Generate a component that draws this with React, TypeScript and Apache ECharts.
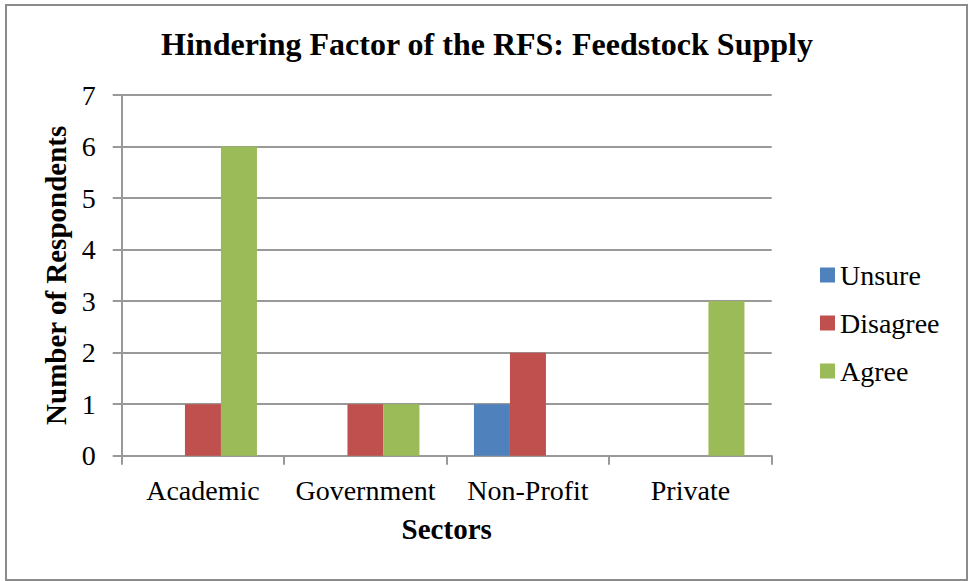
import React, { useEffect, useRef } from "react";
import * as echarts from "echarts";

const categories = ["Academic", "Government", "Non-Profit", "Private"];
const unsure = [0, 0, 1, 0];
const disagree = [1, 1, 2, 0];
const agree = [6, 1, 0, 3];
const seriesNames = ["Unsure", "Disagree", "Agree"];
const seriesColors = ["#4F81BD", "#C0504D", "#9BBB59"];

const FONT = "'Liberation Serif', 'Times New Roman', serif";

export default function App() {
  const ref = useRef<HTMLDivElement>(null);
  useEffect(() => {
    if (!ref.current) return;
    const chart = echarts.init(ref.current, undefined, { renderer: "svg" });
    const values = [unsure, disagree, agree];
    chart.setOption({
      animation: false,
      backgroundColor: "#ffffff",
      textStyle: { fontFamily: FONT, color: "#000" },
      title: {
        text: "Hindering Factor of the RFS: Feedstock Supply",
        left: 482,
        textAlign: "center",
        top: 23,
        textStyle: { fontFamily: FONT, fontSize: 32, fontWeight: "bold", color: "#000" },
      },
      graphic: [
        {
          type: "rect",
          shape: { x: 6, y: 5, width: 961, height: 575 },
          style: { fill: "none", stroke: "#8b8b8b", lineWidth: 2 },
          silent: true,
        },
      ],
      legend: {
        orient: "vertical",
        left: 815,
        top: 255,
        itemWidth: 15,
        itemHeight: 15,
        itemGap: 18,
        icon: "rect",
        data: seriesNames,
        textStyle: { fontFamily: FONT, fontSize: 28, color: "#000", lineHeight: 30, padding: [0, 0, 0, 0] },
      },
      grid: { left: 121.7, right: 197.3, top: 95, bottom: 125.3, containLabel: false },
      xAxis: {
        type: "category",
        data: categories,
        name: "Sectors",
        nameLocation: "middle",
        nameGap: 59,
        nameTextStyle: { fontFamily: FONT, fontSize: 29, fontWeight: "bold", color: "#000" },
        axisLine: { show: true, lineStyle: { color: "#999", width: 2 } },
        axisTick: { show: true, interval: 0, length: 9, lineStyle: { color: "#999", width: 2 } },
        axisLabel: { interval: 0, fontFamily: FONT, fontSize: 28, color: "#000", margin: 21 },
      },
      yAxis: {
        type: "value",
        min: 0,
        max: 7,
        interval: 1,
        name: "Number of Respondents",
        nameLocation: "middle",
        nameGap: 44,
        nameTextStyle: { fontFamily: FONT, fontSize: 29, fontWeight: "bold", color: "#000" },
        axisLine: { show: true, lineStyle: { color: "#999", width: 2 } },
        axisTick: { show: true, length: 9, lineStyle: { color: "#999", width: 2 } },
        axisLabel: { fontFamily: FONT, fontSize: 28, color: "#000", margin: 26 },
        splitLine: { show: true, lineStyle: { color: "#999", width: 2 } },
      },
      series: seriesNames.map((name, i) => ({
        name,
        type: "bar",
        data: values[i],
        barWidth: 36,
        barGap: "0%",
        itemStyle: { color: seriesColors[i] },
      })),
    });
    return () => chart.dispose();
  }, []);
  return (
    <div
      ref={ref}
      style={{ position: "fixed", left: 0, top: 0, width: 969, height: 581 }}
    />
  );
}
